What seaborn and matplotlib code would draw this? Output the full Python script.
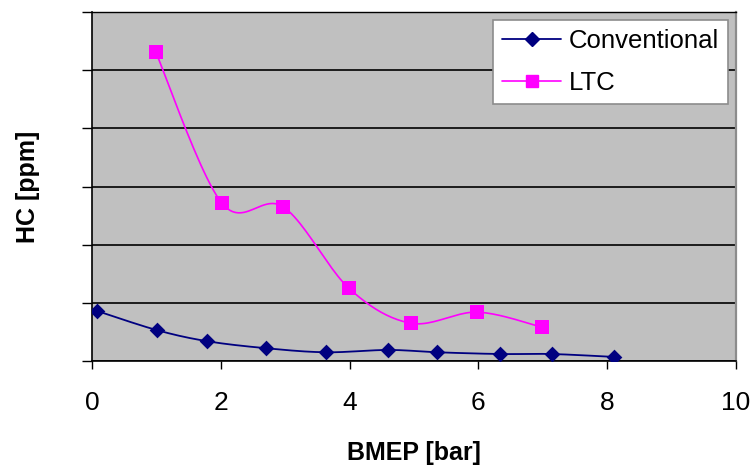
import numpy as np
import pandas as pd
import seaborn as sns
import matplotlib
matplotlib.use("Agg")
import matplotlib.pyplot as plt
from matplotlib.lines import Line2D

# ---- data ----
conv_x = [0.08, 1.01, 1.79, 2.70, 3.63, 4.60, 5.36, 6.34, 7.14, 8.11]
conv_y = [8.6, 5.3, 3.4, 2.2, 1.5, 1.9, 1.5, 1.2, 1.2, 0.7]
ltc_x = [0.99, 2.02, 2.97, 3.99, 4.95, 5.98, 6.99]
ltc_y = [53.1, 27.1, 26.5, 12.5, 6.5, 8.4, 5.8]
series_names = ["Conventional", "LTC"]
x_ticks = [0, 2, 4, 6, 8, 10]
y_ticks = [0, 10, 20, 30, 40, 50, 60]

NAVY = "#000080"
MAGENTA = "#FF00FF"


def smooth(x, y, n=24):
    """Excel-style smoothed line (Bezier through the points) for display."""
    P = np.column_stack([x, y]).astype(float)
    pts = []
    for i in range(len(P) - 1):
        p0 = P[i - 1] if i > 0 else P[i]
        p1, p2 = P[i], P[i + 1]
        p3 = P[i + 2] if i + 2 < len(P) else P[i + 1]
        c1 = p1 + (p2 - p0) / 6
        c2 = p2 - (p3 - p1) / 6
        t = np.linspace(0, 1, n)[:, None]
        seg = (1 - t) ** 3 * p1 + 3 * (1 - t) ** 2 * t * c1 + 3 * (1 - t) * t ** 2 * c2 + t ** 3 * p2
        pts.append(seg if i == 0 else seg[1:])
    return np.vstack(pts)


sns.set_style("white")
plt.rcParams["font.family"] = ["Liberation Sans", "DejaVu Sans"]
plt.rcParams["text.color"] = "black"
plt.rcParams["axes.labelcolor"] = "black"
plt.rcParams["xtick.color"] = "black"
plt.rcParams["ytick.color"] = "black"

W, H = 751, 469
fig = plt.figure(figsize=(W / 100, H / 100), dpi=100)
L, R, T, B = 92, 736, 12, 361
ax = fig.add_axes([L / W, 1 - B / H, (R - L) / W, (B - T) / H])
ax.set_facecolor("#C0C0C0")

cs = smooth(conv_x, conv_y)
ls = smooth(ltc_x, ltc_y)
df_conv_line = pd.DataFrame({"x": cs[:, 0], "y": cs[:, 1]})
df_ltc_line = pd.DataFrame({"x": ls[:, 0], "y": ls[:, 1]})
df_conv = pd.DataFrame({"x": conv_x, "y": conv_y})
df_ltc = pd.DataFrame({"x": ltc_x, "y": ltc_y})

sns.lineplot(data=df_ltc_line, x="x", y="y", sort=False, color=MAGENTA, lw=1.2, ax=ax, legend=False, zorder=3)
sns.lineplot(data=df_conv_line, x="x", y="y", sort=False, color=NAVY, lw=1.3, ax=ax, legend=False, zorder=3)
sns.scatterplot(data=df_ltc, x="x", y="y", marker="s", s=9.5 ** 2, color=MAGENTA, edgecolor=MAGENTA,
                linewidth=0, ax=ax, legend=False, zorder=4)
sns.scatterplot(data=df_conv, x="x", y="y", marker="D", s=8 ** 2, color=NAVY, edgecolor=NAVY,
                linewidth=0, ax=ax, legend=False, zorder=4)

ax.set_xlim(0, 10)
ax.set_ylim(0, 60)
ax.set_xticks(x_ticks)
ax.set_xticklabels([str(v) for v in x_ticks])
ax.set_yticks(y_ticks)
ax.set_yticklabels([])

ax.yaxis.grid(True, color="black", lw=1.2)
ax.xaxis.grid(False)
ax.set_axisbelow(True)

for s in ["left", "bottom"]:
    ax.spines[s].set_color("black")
    ax.spines[s].set_linewidth(1.2)
ax.spines["top"].set_color("black")
ax.spines["top"].set_linewidth(1.0)
ax.spines["right"].set_color("#8C8C8C")
ax.spines["right"].set_linewidth(1.6)

ax.tick_params(axis="y", direction="out", length=7.5, width=1.0, color="black", left=True, labelleft=False)
ax.tick_params(axis="x", direction="out", length=6, width=1.0, color="black", bottom=True,
               labelsize=19, pad=15.5, labelcolor="black")

ax.set_xlabel("BMEP [bar]", fontsize=18, fontweight="bold", labelpad=19, color="black")
ax.set_ylabel("HC [ppm]", fontsize=18, fontweight="bold", labelpad=30, color="black")

handles = [
    Line2D([0], [0], color=NAVY, lw=1.3, marker="D", markersize=7, markerfacecolor=NAVY, markeredgecolor=NAVY),
    Line2D([0], [0], color=MAGENTA, lw=1.2, marker="s", markersize=9, markerfacecolor=MAGENTA, markeredgecolor=MAGENTA),
]
leg = ax.legend(handles, series_names, loc="upper right", bbox_to_anchor=(0.988, 0.978),
                borderaxespad=0, fontsize=18.5, frameon=True, fancybox=False, framealpha=1,
                handlelength=2.3, handletextpad=0.3, labelspacing=0.7, borderpad=0.35)
for t in leg.get_texts():
    t.set_color("black")
leg.get_frame().set_facecolor("white")
leg.get_frame().set_edgecolor("#8C8C8C")
leg.get_frame().set_linewidth(1.2)

fig.savefig("out.png", dpi=100)
